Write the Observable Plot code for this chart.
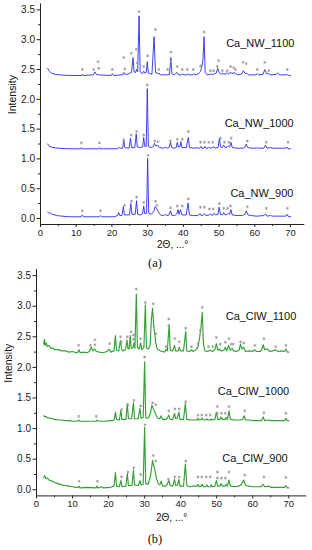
<!DOCTYPE html>
<html><head><meta charset="utf-8">
<script src="https://cdn.jsdelivr.net/npm/d3@7"></script>
<script src="https://cdn.jsdelivr.net/npm/@observablehq/plot@0.6"></script>
<style>
body{margin:0;background:#fff;}
#wrap{position:relative;width:312px;height:550px;overflow:hidden;background:#fff;}
.panel{position:absolute;left:0;}
.cap{position:absolute;left:0;width:310px;text-align:center;font-family:"Liberation Serif","Times New Roman",serif;font-size:12.5px;line-height:14px;color:#111;}
</style></head>
<body><div id="wrap"></div>
<script>
// ---------- axis ticks ----------
const xTicks = [0, 10, 20, 30, 40, 50, 60, 70];
const xMinor = [5, 15, 25, 35, 45, 55, 65];
const yTicks = [0, 0.5, 1, 1.5, 2, 2.5, 3, 3.5];
const yMinor = [0.25, 0.75, 1.25, 1.75, 2.25, 2.75, 3.25];
const xTitle = "2Θ, ...°";
const yTitle = "Intensity";

// ---------- panel (a) series ----------
const namesA = ["Ca_NW_1100", "Ca_NW_1000", "Ca_NW_900"];
const labelXA = [71.1, 70.9, 70.8];
const labelYA = [2.94, 1.59, 0.42];

const nw1100 = [[2,2.52],[2.5,2.47],[3,2.44],[4,2.42],[5.5,2.41],[8,2.40],
[11.5,2.40],[11.7,2.42],[11.9,2.40],[14.8,2.41],[15.2,2.46],[15.6,2.42],[16.2,2.41],
[19.8,2.40],[20.1,2.43],[20.4,2.40],[23.0,2.41],[23.3,2.45],[23.6,2.42],
[24.5,2.42],[25.0,2.44],[25.5,2.45],[25.9,2.70],[26.2,2.46],
[26.6,2.45],[26.9,2.50],[27.2,2.46],[27.6,3.40],[27.9,2.46],
[28.5,2.43],[28.9,2.47],[29.2,2.44],[29.6,2.45],[29.9,2.63],[30.2,2.44],
[31.2,2.42],[31.8,3.05],[32.2,2.45],[33.0,2.43],[33.2,2.44],[33.5,2.41],
[35.5,2.41],[35.8,2.42],[36.1,2.41],[36.5,2.70],[36.8,2.43],
[37.5,2.41],[38.2,2.45],[38.6,2.41],[39.5,2.41],[39.8,2.43],[40.1,2.41],
[41.0,2.41],[41.3,2.43],[41.6,2.41],[42.6,2.41],[42.9,2.43],[43.2,2.41],
[44.3,2.43],[44.8,2.47],[45.2,2.55],[45.5,2.67],[45.8,3.05],[46.1,2.45],
[46.6,2.41],[47.5,2.42],[48.5,2.42],[49.2,2.44],[49.6,2.52],[50.0,2.45],
[50.6,2.42],[51.0,2.44],[51.3,2.42],[52.3,2.44],[52.7,2.42],[53.2,2.46],[53.6,2.43],[54.2,2.45],[54.6,2.43],
[55.5,2.41],[56.4,2.43],[56.8,2.48],[57.3,2.43],[57.7,2.44],[58.2,2.41],
[60.3,2.41],[60.7,2.43],[61.1,2.41],[62.3,2.42],[62.8,2.50],[63.3,2.43],[63.9,2.43],[64.5,2.41],
[66.0,2.42],[66.4,2.44],[67.0,2.41],[69.0,2.41],[69.2,2.42],[69.5,2.40],[70,2.40]];

const nw1000 = [[2,1.25],[2.5,1.21],[3.5,1.19],[5,1.18],[8,1.17],
[11.2,1.17],[11.4,1.19],[11.6,1.17],[16.3,1.17],[16.5,1.19],[16.7,1.17],
[21.5,1.17],[22.0,1.19],[22.4,1.18],[23.0,1.18],[23.3,1.31],[23.6,1.19],
[24.8,1.18],[25.2,1.35],[25.5,1.19],[26.4,1.19],[26.8,1.42],[27.1,1.20],
[28.0,1.19],[28.6,1.20],[28.9,1.36],[29.2,1.21],[29.6,1.21],[29.9,2.18],[30.2,1.21],
[31.0,1.19],[31.6,1.21],[31.9,1.26],[32.3,1.22],[32.8,1.23],[33.3,1.19],
[34.5,1.18],[35.0,1.20],[35.4,1.18],[36.0,1.19],[36.4,1.28],[36.7,1.19],
[37.5,1.18],[38.0,1.19],[38.3,1.28],[38.6,1.20],[39.0,1.20],[39.3,1.29],[39.6,1.19],
[40.8,1.19],[41.4,1.36],[41.7,1.19],[43.0,1.18],[43.8,1.19],[44.2,1.18],
[44.6,1.18],[44.9,1.21],[45.2,1.18],[45.8,1.18],[46.0,1.21],[46.3,1.18],
[47.0,1.18],[47.3,1.20],[47.6,1.18],[48.2,1.19],[48.5,1.21],[48.8,1.18],
[49.7,1.19],[50.1,1.34],[50.4,1.20],[50.9,1.19],[51.3,1.23],[51.7,1.19],
[52.3,1.20],[52.6,1.22],[53.0,1.20],[53.3,1.28],[53.7,1.19],
[55.0,1.18],[56.5,1.18],[57.2,1.19],[57.6,1.25],[58.0,1.19],[59.0,1.18],[60.5,1.18],[60.8,1.19],[61.1,1.18],
[62.5,1.18],[63.0,1.23],[63.4,1.18],[64.5,1.19],[65.0,1.18],
[68.7,1.18],[69.0,1.20],[69.3,1.17],[70,1.17]];

const nw900 = [[2,0.11],[2.3,0.09],[2.6,0.10],[3,0.08],[3.5,0.07],[4.5,0.05],[6,0.04],[8,0.03],
[11.4,0.03],[11.7,0.06],[12.0,0.03],[16.5,0.03],[16.8,0.05],[17.1,0.03],
[20.5,0.03],[21.6,0.05],[21.9,0.10],[22.2,0.05],[22.8,0.05],[23.2,0.20],[23.5,0.06],
[24.9,0.06],[25.3,0.25],[25.6,0.07],[26.5,0.07],[26.9,0.30],[27.2,0.07],
[28.0,0.06],[28.6,0.08],[28.9,0.21],[29.2,0.08],[29.7,0.09],[30.0,1.01],[30.3,0.09],
[31.0,0.07],[31.7,0.12],[32.1,0.20],[32.5,0.17],[33.0,0.11],[33.6,0.06],
[34.5,0.05],[35.0,0.07],[35.4,0.05],[36.0,0.06],[36.4,0.13],[36.8,0.05],
[37.6,0.05],[38.2,0.08],[38.5,0.15],[38.8,0.07],[39.2,0.15],[39.6,0.06],
[40.8,0.06],[41.3,0.26],[41.7,0.06],[42.5,0.05],[44.0,0.05],[44.7,0.08],[45.0,0.05],
[45.6,0.06],[45.9,0.08],[46.3,0.05],[47.3,0.06],[47.6,0.08],[48.0,0.05],[48.3,0.06],[48.6,0.09],[49.0,0.06],
[49.7,0.07],[50.0,0.19],[50.4,0.07],[51.0,0.06],[51.3,0.10],[51.7,0.06],[52.3,0.07],[52.6,0.09],[53.0,0.07],[53.3,0.15],[53.7,0.06],
[55.0,0.05],[56.5,0.05],[57.2,0.07],[57.6,0.13],[58.1,0.06],[59.0,0.05],[60.5,0.04],
[62.6,0.05],[63.0,0.08],[63.4,0.04],[64.4,0.05],[65.0,0.04],[68.7,0.04],[69.0,0.07],[69.3,0.04],[70,0.03]];

const starsA = [
[11.7,2.50],[14.9,2.50],[16.1,2.63],[16.3,2.52],[20.1,2.50],[23.3,2.70],[23.6,2.51],[25.4,2.77],[26.8,2.84],[27.1,2.61],
[27.6,3.47],[28.9,2.55],[30.0,2.73],[32.2,3.17],[33.1,2.50],[35.6,2.50],[36.5,2.79],[36.5,2.63],[38.3,2.55],[39.7,2.50],
[41.1,2.50],[42.8,2.50],[44.8,2.56],[45.8,3.13],[47.6,2.48],[48.5,2.48],[49.5,2.55],[49.9,2.65],[50.9,2.48],[52.3,2.48],
[53.2,2.55],[54.1,2.53],[54.6,2.50],[56.7,2.62],[57.6,2.60],[60.7,2.50],[62.8,2.62],[63.9,2.48],[69.1,2.50],
[11.4,1.27],[16.5,1.27],[23.3,1.32],[25.4,1.40],[26.9,1.46],[28.9,1.40],[29.9,2.24],[32.0,1.30],[32.9,1.29],[36.4,1.30],
[38.3,1.33],[39.7,1.33],[41.4,1.46],[44.8,1.28],[45.9,1.28],[47.1,1.28],[48.2,1.28],[50.4,1.35],[51.5,1.28],[52.7,1.28],
[53.4,1.35],[57.9,1.30],[63.2,1.28],[69.3,1.28],
[11.7,0.13],[16.8,0.13],[23.5,0.22],[25.5,0.29],[26.9,0.36],[28.9,0.27],[30.1,1.06],[32.2,0.29],[32.6,0.22],[36.4,0.18],
[38.3,0.21],[39.7,0.21],[41.4,0.33],[44.8,0.19],[45.9,0.19],[47.3,0.16],[48.3,0.16],[50.1,0.25],[51.3,0.17],[52.4,0.17],
[53.2,0.21],[57.9,0.20],[63.2,0.17],[69.1,0.17]];

// ---------- panel (b) series ----------
const namesB = ["Ca_ClW_1100", "Ca_ClW_1000", "Ca_ClW_900"];
const labelXB = [72.1, 70.1, 69.7];
const labelYB = [2.84, 1.61, 0.51];

const clw1100 = [[2,2.38],[2.2,2.46],[2.4,2.36],[2.7,2.40],[3,2.34],[3.5,2.36],[4,2.31],[4.5,2.32],[5,2.29],[6,2.29],[7,2.27],[8,2.27],[9,2.25],[10,2.26],[11,2.24],
[11.5,2.25],[11.8,2.29],[12.1,2.24],[13,2.25],[14,2.24],[14.7,2.26],[15.2,2.33],[15.6,2.27],[16.2,2.30],[16.6,2.26],[17.5,2.25],[18.5,2.24],
[19.5,2.26],[20.2,2.30],[20.6,2.25],[21.5,2.27],[21.9,2.52],[22.2,2.28],[22.8,2.27],[23.3,2.44],[23.6,2.30],[24.0,2.27],
[24.7,2.29],[25.1,2.45],[25.4,2.30],[25.7,2.30],[26.0,2.52],[26.3,2.31],[26.8,2.33],[27.1,2.40],[27.3,2.31],[27.7,3.20],[28.0,2.33],
[28.5,2.30],[28.9,2.40],[29.2,2.29],[29.8,2.33],[30.2,3.02],[30.5,2.32],[31.0,2.30],[31.5,2.35],[31.9,2.80],[32.2,2.97],[32.5,2.70],[32.8,2.55],[33.1,2.40],[33.5,2.30],
[34.3,2.27],[35.0,2.26],[35.6,2.25],[36.0,2.30],[36.3,2.27],[36.8,2.70],[37.1,2.28],[37.8,2.27],[38.3,2.36],[38.6,2.27],[39.3,2.27],[39.6,2.33],[40.0,2.27],
[40.8,2.27],[41.4,2.59],[41.7,2.27],[42.5,2.26],[43.0,2.29],[43.4,2.26],[44.3,2.29],[44.8,2.33],[45.3,2.50],[45.7,2.70],[46.0,2.90],[46.3,2.40],[46.7,2.27],
[47.5,2.26],[48.2,2.28],[48.8,2.26],[49.5,2.29],[49.9,2.39],[50.3,2.28],[50.8,2.30],[51.2,2.27],[52.0,2.28],[52.4,2.33],[52.8,2.27],[53.3,2.36],[53.7,2.28],[54.3,2.31],[54.7,2.27],
[55.5,2.26],[56.2,2.28],[56.6,2.38],[57.0,2.30],[57.5,2.33],[58.0,2.26],[59.0,2.27],[60.0,2.26],[60.5,2.29],[61.0,2.26],
[62.0,2.26],[62.5,2.29],[62.9,2.37],[63.3,2.29],[64.0,2.30],[64.8,2.26],[65.5,2.27],[66.3,2.29],[67.0,2.26],[68.0,2.27],[68.8,2.26],[69.2,2.30],[69.6,2.25],[70,2.25]];

const clw1000 = [[2,1.21],[2.3,1.19],[2.6,1.20],[3,1.18],[3.5,1.17],[4,1.17],[5,1.15],[6,1.14],[7,1.14],[8,1.13],[9,1.13],[10,1.12],
[11.5,1.12],[11.8,1.14],[12.1,1.12],[16.5,1.12],[16.8,1.14],[17.1,1.12],[18.5,1.12],
[21.0,1.13],[21.6,1.15],[21.9,1.27],[22.2,1.15],[23.0,1.14],[23.4,1.30],[23.7,1.15],
[24.8,1.15],[25.2,1.41],[25.5,1.16],[26.4,1.16],[26.9,1.42],[27.2,1.16],
[28.2,1.16],[28.7,1.33],[29.0,1.17],[29.6,1.18],[30.0,2.09],[30.3,1.18],
[31.0,1.17],[31.6,1.25],[32.0,1.38],[32.4,1.33],[32.8,1.28],[33.2,1.22],[33.6,1.17],
[34.2,1.16],[34.6,1.21],[35.0,1.15],[35.8,1.15],[36.3,1.17],[36.7,1.22],[37.1,1.15],
[37.8,1.15],[38.3,1.25],[38.6,1.16],[39.0,1.16],[39.5,1.27],[39.8,1.15],
[40.8,1.15],[41.3,1.41],[41.7,1.15],[42.5,1.14],[43.5,1.14],[44.5,1.14],[44.8,1.17],[45.1,1.14],[45.7,1.15],[46.0,1.17],[46.3,1.14],
[47.0,1.14],[47.3,1.16],[47.6,1.14],[48.2,1.14],[48.5,1.16],[48.8,1.14],
[49.5,1.15],[49.9,1.27],[50.3,1.15],[50.9,1.15],[51.2,1.19],[51.6,1.15],[52.3,1.15],[52.6,1.18],[53.0,1.15],[53.4,1.29],[53.8,1.15],
[55.0,1.14],[56.5,1.14],[57.2,1.15],[57.6,1.21],[58.0,1.14],[59,1.14],[60,1.13],
[62.4,1.13],[62.9,1.19],[63.3,1.13],[64.5,1.14],[65.0,1.13],[68.8,1.13],[69.2,1.17],[69.6,1.13],[70,1.13]];

const clw900 = [[2,0.20],[2.3,0.23],[2.6,0.18],[3,0.19],[3.5,0.16],[4,0.15],[5,0.12],[6,0.10],[7,0.08],[8,0.07],[9,0.06],[10,0.05],[11,0.04],
[11.5,0.04],[11.8,0.06],[12.1,0.03],[14,0.04],[16.5,0.03],[16.8,0.06],[17.1,0.03],[18.0,0.05],[18.5,0.03],
[20.5,0.04],[21.5,0.06],[21.9,0.28],[22.2,0.06],[23.0,0.05],[23.4,0.15],[23.7,0.05],
[24.8,0.06],[25.2,0.27],[25.5,0.07],[26.5,0.07],[26.9,0.32],[27.2,0.08],
[28.3,0.07],[28.7,0.15],[29.0,0.08],[29.6,0.09],[30.0,1.02],[30.3,0.10],
[31.0,0.09],[31.7,0.25],[32.2,0.48],[32.5,0.40],[32.9,0.30],[33.3,0.18],[33.8,0.10],
[34.2,0.08],[34.6,0.14],[35.0,0.06],[35.8,0.06],[36.3,0.09],[36.7,0.15],[37.1,0.07],
[37.8,0.06],[38.3,0.17],[38.6,0.07],[39.1,0.07],[39.5,0.17],[39.8,0.06],
[40.8,0.06],[41.3,0.42],[41.7,0.07],[42.5,0.05],[43.5,0.06],[44.5,0.06],[44.8,0.09],[45.1,0.05],[45.7,0.06],[46.0,0.09],[46.3,0.05],
[47.0,0.05],[47.3,0.08],[47.6,0.05],[48.2,0.05],[48.5,0.08],[48.8,0.05],
[49.5,0.06],[49.9,0.15],[50.3,0.06],[50.9,0.06],[51.2,0.10],[51.6,0.06],[52.3,0.06],[52.6,0.09],[53.0,0.06],[53.4,0.16],[53.8,0.06],
[55.0,0.05],[56.0,0.06],[56.8,0.08],[57.5,0.16],[58.0,0.07],[59,0.06],[60,0.05],
[62.4,0.05],[62.9,0.09],[63.3,0.05],[64.5,0.06],[65.0,0.04],[68.8,0.04],[69.2,0.07],[69.6,0.03],[70,0.03]];

const starsB = [
[11.7,2.36],[15.0,2.36],[16.2,2.45],[16.2,2.37],[20.3,2.39],[23.3,2.50],[23.5,2.42],[25.2,2.50],[26.2,2.58],[26.9,2.53],
[26.9,2.46],[27.7,3.28],[28.9,2.47],[30.2,3.06],[32.4,3.04],[33.1,2.55],[35.9,2.34],[36.7,2.79],[36.7,2.68],[38.4,2.47],
[39.6,2.42],[41.4,2.64],[43.0,2.34],[44.8,2.39],[45.5,2.61],[46.0,2.98],[47.7,2.34],[48.9,2.34],[49.9,2.49],[51.0,2.38],
[52.4,2.41],[53.4,2.47],[54.0,2.38],[54.6,2.38],[56.6,2.42],[57.5,2.40],[60.6,2.36],[63.1,2.47],[66.4,2.34],[69.2,2.36],
[11.7,1.20],[16.6,1.20],[23.6,1.31],[25.4,1.39],[27.0,1.46],[28.9,1.37],[30.0,2.17],[32.2,1.42],[33.1,1.39],[36.7,1.29],
[38.4,1.32],[39.6,1.32],[41.4,1.44],[44.8,1.22],[45.9,1.22],[47.1,1.22],[48.2,1.22],[50.2,1.36],[50.2,1.25],[51.3,1.25],
[52.4,1.25],[53.4,1.36],[57.8,1.29],[63.1,1.26],[69.2,1.25],
[11.8,0.14],[16.9,0.14],[23.6,0.21],[25.4,0.29],[27.0,0.36],[28.9,0.25],[30.1,1.06],[32.4,0.56],[33.1,0.47],[36.6,0.17],
[38.4,0.21],[39.6,0.21],[41.4,0.47],[44.8,0.21],[45.9,0.21],[47.1,0.21],[48.2,0.21],[50.2,0.29],[50.2,0.19],[51.3,0.19],
[52.4,0.19],[53.4,0.29],[57.8,0.24],[63.1,0.21],[69.2,0.20]];

// ---------- drawing ----------
const font = "'Liberation Sans', Arial, sans-serif";
const toRows = (pts) => pts.map(([x, y]) => ({x, y}));

function makePanel(cfg) {
  const {series, stars, names, labelX, labelY, color, width, xDomain, marginLeft, marginRight, marginTop, marginBottom, height} = cfg;
  const marks = [
    Plot.axisX({ticks: xTicks, tickSize: 3, tickPadding: 1.5, tickFormat: d => String(d), label: null, fontSize: 9.5, stroke: "#222"}),
    Plot.axisX({ticks: xMinor, tickSize: 2, tickFormat: () => "", label: null, stroke: "#222"}),
    Plot.axisY({ticks: yTicks, tickSize: 3.5, tickPadding: 2, tickFormat: d3.format(".1f"), label: null, fontSize: 10, stroke: "#222"}),
    Plot.axisY({ticks: yMinor, tickSize: 2, tickFormat: () => "", label: null, stroke: "#222"}),
    Plot.ruleX([xDomain[0]], {stroke: "#222", strokeWidth: 1}),
    Plot.ruleY([-0.1], {stroke: "#222", strokeWidth: 1}),
    ...series.map(s => Plot.line(toRows(s), {x: "x", y: "y", stroke: color, strokeWidth: cfg.lineWidth, strokeLinejoin: "round"})),
    Plot.dot(toRows(stars), {x: "x", y: "y", symbol: "asterisk", r: 1.4, stroke: "#999", strokeWidth: 0.8}),
    Plot.text(names, {x: (d, i) => labelX[i], y: (d, i) => labelY[i], text: d => d, textAnchor: "end", fontSize: 11, fill: "#111"}),
    Plot.text([yTitle], {text: d => d, frameAnchor: "left", dx: -28, rotate: -90, fontSize: 10.5, fill: "#111"}),
    Plot.text([xTitle], {text: d => d, frameAnchor: "bottom", dy: cfg.titleDy, fontSize: 10, fill: "#111"})
  ];
  return Plot.plot({
    width, height, marginLeft, marginRight, marginTop, marginBottom,
    x: {domain: xDomain, label: null},
    y: {domain: [-0.1, 3.6], label: null},
    style: {fontFamily: font, fontSize: "10px", background: "transparent", color: "#222", overflow: "visible"},
    marks
  });
}

const wrap = document.getElementById("wrap");

const pa = makePanel({
  series: [nw1100, nw1000, nw900], stars: starsA, names: namesA, labelX: labelXA, labelY: labelYA,
  color: "#2b2bf5", lineWidth: 0.9, width: 312, xDomain: [0, 74], titleDy: 23,
  marginLeft: 40, marginRight: 7.7, marginTop: 3.44, marginBottom: 30, height: 254
});
pa.classList.add("panel"); pa.style.top = "0px";
wrap.appendChild(pa);

const capA = document.createElement("div");
capA.className = "cap"; capA.style.top = "256px"; capA.textContent = "(a)";
wrap.appendChild(capA);

const pb = makePanel({
  series: [clw1100, clw1000, clw900], stars: starsB, names: namesB, labelX: labelXB, labelY: labelYB,
  color: "#33a033", lineWidth: 1.15, width: 312, xDomain: [0, 75], titleDy: 25,
  marginLeft: 36, marginRight: 5.7, marginTop: 4.0, marginBottom: 30, height: 260.4
});
pb.classList.add("panel"); pb.style.top = "265px";
wrap.appendChild(pb);

const capB = document.createElement("div");
capB.className = "cap"; capB.style.top = "532px"; capB.textContent = "(b)";
wrap.appendChild(capB);
</script>
</body></html>
